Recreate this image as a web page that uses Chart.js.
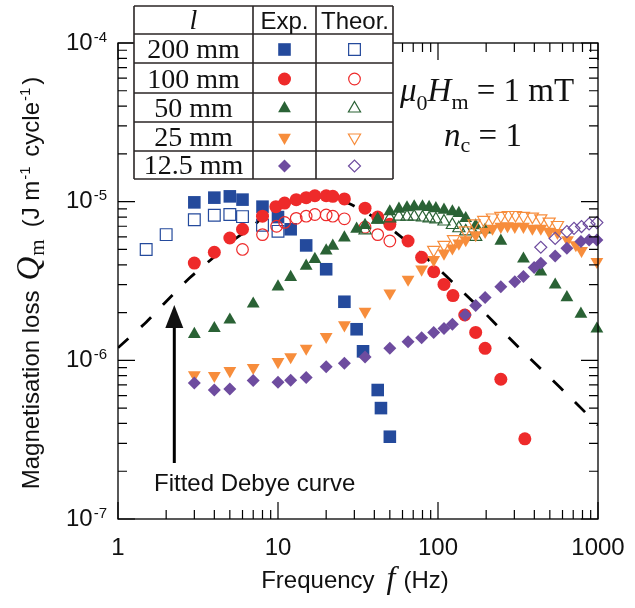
<!DOCTYPE html>
<html>
<head>
<meta charset="utf-8">
<title>Magnetisation loss vs frequency</title>
<script src="https://cdn.jsdelivr.net/npm/chart.js@4.4.1/dist/chart.umd.min.js"></script>
<style>
  html, body { margin: 0; padding: 0; background: #ffffff; }
  #wrap { width: 635px; height: 608px; position: relative; }
</style>
</head>
<body>
<div id="wrap"><canvas id="chart"></canvas></div>
<script>
// ---------- data ----------
// 200 mm sample
const f200Exp = [3, 4, 5, 6, 8, 10, 12, 15, 20, 26, 31, 34, 42, 44, 50];
const q200Exp = [9.9e-6, 1.06e-5, 1.08e-5, 1.03e-5, 9.3e-6, 8.0e-6, 6.7e-6, 5.3e-6, 3.75e-6, 2.34e-6, 1.57e-6, 1.14e-6, 6.5e-7, 5.0e-7, 3.3e-7];
const f200Theor = [1.5, 2, 3, 4, 5, 6, 8, 10];
const q200Theor = [5.0e-6, 6.2e-6, 7.7e-6, 8.2e-6, 8.3e-6, 8.05e-6, 7.1e-6, 6.5e-6];

// 100 mm sample
const f100Exp = [3, 4, 5, 6, 8, 9.7, 11, 13, 15, 17, 20, 22, 26, 35, 42, 50, 65, 79, 94, 109, 124, 147, 172, 197, 247, 349];
const q100Exp = [4.1e-6, 4.8e-6, 5.9e-6, 6.7e-6, 8.1e-6, 9.3e-6, 9.8e-6, 1.03e-5, 1.06e-5, 1.09e-5, 1.09e-5, 1.08e-5, 1.04e-5, 9.1e-6, 8.0e-6, 7.2e-6, 5.65e-6, 4.46e-6, 3.62e-6, 3.01e-6, 2.56e-6, 1.93e-6, 1.5e-6, 1.19e-6, 7.6e-7, 3.2e-7];
const f100Theor = [6, 8, 9.8, 11, 13, 15, 17, 20, 22, 26, 35, 42, 50];
const q100Theor = [5.0e-6, 6.2e-6, 7.0e-6, 7.4e-6, 7.85e-6, 8.1e-6, 8.3e-6, 8.25e-6, 8.1e-6, 7.8e-6, 6.9e-6, 6.2e-6, 5.65e-6];

// 50 mm sample
const f50Exp = [3, 4, 5, 7, 10, 12, 15, 17, 20, 22, 26, 31, 35, 42, 50, 57, 64, 71, 80, 88, 97, 109, 123, 135, 149, 172, 197, 247, 342, 439, 540, 639, 782, 984];
const q50Exp = [1.46e-6, 1.59e-6, 1.8e-6, 2.27e-6, 2.91e-6, 3.34e-6, 3.93e-6, 4.34e-6, 4.91e-6, 5.26e-6, 5.93e-6, 6.73e-6, 7.1e-6, 7.7e-6, 8.65e-6, 9.0e-6, 9.17e-6, 9.3e-6, 9.3e-6, 9.23e-6, 9.06e-6, 8.87e-6, 8.65e-6, 8.45e-6, 7.85e-6, 7.06e-6, 6.64e-6, 5.65e-6, 4.36e-6, 3.62e-6, 2.99e-6, 2.49e-6, 1.96e-6, 1.58e-6];
const f50Theor = [35, 42, 50, 57, 64, 71, 80, 88, 97, 109, 123, 135, 149, 172];
const q50Theor = [6.6e-6, 7.7e-6, 7.85e-6, 8.05e-6, 8.05e-6, 8.05e-6, 7.95e-6, 7.85e-6, 7.74e-6, 7.5e-6, 7.13e-6, 6.8e-6, 6.5e-6, 6.0e-6];

// 25 mm sample
const f25Exp = [3, 4, 5, 7, 10, 12, 15, 20, 26, 35, 50, 65, 79, 94, 109, 123, 135, 149, 172, 197, 219, 247, 272, 302, 342, 389, 439, 495, 558, 645, 727, 789, 984];
const q25Exp = [8.1e-7, 8.0e-7, 8.6e-7, 9.0e-7, 9.8e-7, 1.05e-6, 1.19e-6, 1.41e-6, 1.67e-6, 2.03e-6, 2.65e-6, 3.24e-6, 3.75e-6, 4.3e-6, 4.73e-6, 5.09e-6, 5.47e-6, 5.74e-6, 6.17e-6, 6.48e-6, 6.79e-6, 6.97e-6, 7.03e-6, 6.97e-6, 6.97e-6, 6.79e-6, 6.79e-6, 6.48e-6, 6.38e-6, 5.74e-6, 5.34e-6, 4.91e-6, 4.19e-6];
const f25Theor = [94, 109, 125, 148, 168, 193, 219, 247, 275, 305, 342, 389, 439, 495, 558];
const q25Theor = [4.97e-6, 5.34e-6, 5.8e-6, 6.6e-6, 7.3e-6, 7.67e-6, 7.95e-6, 8.13e-6, 8.24e-6, 8.24e-6, 8.13e-6, 8.05e-6, 7.85e-6, 7.48e-6, 7.13e-6];

// 12.5 mm sample
const f12Exp = [3, 4, 5, 7, 10, 12, 15, 20, 26, 35, 50, 65, 79, 94, 109, 123, 148, 172, 197, 247, 302, 342, 399, 439, 540, 639, 782, 880, 984];
const q12Exp = [7.2e-7, 6.5e-7, 6.6e-7, 7.45e-7, 7.27e-7, 7.5e-7, 7.8e-7, 9.1e-7, 9.6e-7, 1.05e-6, 1.19e-6, 1.31e-6, 1.39e-6, 1.5e-6, 1.59e-6, 1.69e-6, 1.93e-6, 2.22e-6, 2.49e-6, 2.91e-6, 3.13e-6, 3.37e-6, 3.84e-6, 4.09e-6, 4.55e-6, 5.09e-6, 5.6e-6, 5.74e-6, 5.74e-6];
const f12Theor = [439, 540, 639, 708, 789, 880, 984];
const q12Theor = [5.16e-6, 5.87e-6, 6.48e-6, 6.79e-6, 6.97e-6, 7.24e-6, 7.38e-6];

// fitted Debye curve
const fDebye = [1, 1.5, 2, 2.8, 3.9, 5, 6.7, 8, 10, 13, 17, 22, 28, 35, 45, 70, 100, 130, 190, 250, 350, 480, 700, 1000];
const qDebye = [1.2e-6, 1.74e-6, 2.35e-6, 3.3e-6, 4.4e-6, 5.5e-6, 6.8e-6, 7.9e-6, 9.1e-6, 1.02e-5, 1.07e-5, 1.05e-5, 9.7e-6, 8.6e-6, 7.4e-6, 5.2e-6, 3.8e-6, 2.95e-6, 2.05e-6, 1.55e-6, 1.1e-6, 8.1e-7, 5.6e-7, 3.9e-7];

// axes
const xMin = 1, xMax = 1000;
const yMin = 1e-7, yMax = 1e-4;
const xTickValues = [1, 10, 100, 1000];
const xTickLabels = ['1', '10', '100', '1000'];
const yTickValues = [1e-7, 1e-6, 1e-5, 1e-4];
const yTickExponents = ['-7', '-6', '-5', '-4'];
const lengthLabels = ['200 mm', '100 mm', '50 mm', '25 mm', '12.5 mm'];

// ---------- styles ----------
const SANS = '"Liberation Sans", Arial, sans-serif';
const SERIF = '"Liberation Serif", "Times New Roman", serif';
const COLORS = ['#244a9c', '#ee2a2a', '#2a6235', '#f78d3c', '#6e4c9f'];
const MARKS = [
  { style: 'rect', rot: 0, rFill: 8.9, rOpen: 8.3 },
  { style: 'circle', rot: 0, rFill: 6.5, rOpen: 5.8 },
  { style: 'triangle', rot: 0, rFill: 7.4, rOpen: 7.0 },
  { style: 'triangle', rot: 180, rFill: 7.4, rOpen: 7.0 },
  { style: 'rectRot', rot: 0, rFill: 6.5, rOpen: 6.0 }
];

const expSets = [[f200Exp, q200Exp], [f100Exp, q100Exp], [f50Exp, q50Exp], [f25Exp, q25Exp], [f12Exp, q12Exp]];
const theorSets = [[f200Theor, q200Theor], [f100Theor, q100Theor], [f50Theor, q50Theor], [f25Theor, q25Theor], [f12Theor, q12Theor]];

function toPoints(xs, ys) { return xs.map((x, i) => ({ x: x, y: ys[i] })); }

const datasets = [];
for (let i = 0; i < 5; i++) {
  const m = MARKS[i];
  datasets.push({
    label: lengthLabels[i] + ' Exp.',
    data: toPoints(expSets[i][0], expSets[i][1]),
    showLine: false,
    pointStyle: m.style, rotation: m.rot, pointRadius: m.rFill,
    pointBackgroundColor: COLORS[i], pointBorderColor: COLORS[i], pointBorderWidth: 0,
    order: 2 + (4 - i) * 2, clip: false
  });
  datasets.push({
    label: lengthLabels[i] + ' Theor.',
    data: toPoints(theorSets[i][0], theorSets[i][1]),
    showLine: false,
    pointStyle: m.style, rotation: m.rot, pointRadius: m.rOpen,
    pointBackgroundColor: 'rgba(255,255,255,0)', pointBorderColor: COLORS[i], pointBorderWidth: 1.2,
    order: 1 + (4 - i) * 2, clip: false
  });
}
datasets.push({
  label: 'Fitted Debye curve',
  data: toPoints(fDebye, qDebye),
  showLine: true, pointRadius: 0, borderColor: '#000000', borderWidth: 2.8,
  borderDash: [14, 17], tension: 0.25, fill: false, order: 50
});

// ---------- drawing helpers ----------
// runs: [text, font, dy, extra gap after]
function drawRuns(ctx, runs, x, y, align) {
  let total = 0;
  runs.forEach(r => { ctx.font = r[1]; total += ctx.measureText(r[0]).width + (r[3] || 0); });
  let cx = align === 'center' ? x - total / 2 : (align === 'right' ? x - total : x);
  ctx.textAlign = 'left';
  ctx.textBaseline = 'alphabetic';
  runs.forEach(r => {
    ctx.font = r[1];
    ctx.fillText(r[0], cx, y + (r[2] || 0));
    cx += ctx.measureText(r[0]).width + (r[3] || 0);
  });
}

function markerPath(ctx, style, rot, r, x, y) {
  const rad = rot * Math.PI / 180;
  ctx.beginPath();
  if (style === 'circle') {
    ctx.arc(x, y, r, 0, Math.PI * 2);
  } else if (style === 'rect') {
    const s = Math.SQRT1_2 * r;
    ctx.rect(x - s, y - s, 2 * s, 2 * s);
  } else if (style === 'triangle') {
    let a = rad;
    ctx.moveTo(x + Math.sin(a) * r, y - Math.cos(a) * r);
    a += 2 * Math.PI / 3;
    ctx.lineTo(x + Math.sin(a) * r, y - Math.cos(a) * r);
    a += 2 * Math.PI / 3;
    ctx.lineTo(x + Math.sin(a) * r, y - Math.cos(a) * r);
    ctx.closePath();
  } else if (style === 'rectRot') {
    ctx.moveTo(x - r, y); ctx.lineTo(x, y - r); ctx.lineTo(x + r, y); ctx.lineTo(x, y + r);
    ctx.closePath();
  }
}

function logTicks(min, max) {
  const major = [], minor = [];
  const e0 = Math.round(Math.log10(min)), e1 = Math.round(Math.log10(max));
  for (let e = e0; e < e1; e++) {
    const b = Math.pow(10, e);
    major.push(b);
    for (let k = 2; k <= 9; k++) minor.push(k * b);
  }
  major.push(max);
  return { major, minor };
}

// frame, inward ticks, tick labels, titles, table and annotations
const decorations = {
  id: 'decorations',
  afterDraw(chart) {
    const ctx = chart.ctx;
    const xs = chart.scales.x, ys = chart.scales.y;
    const L = chart.chartArea.left, R = chart.chartArea.right;
    const T = chart.chartArea.top, B = chart.chartArea.bottom;
    ctx.save();
    ctx.strokeStyle = '#000'; ctx.fillStyle = '#000';
    ctx.lineWidth = 1.3;
    ctx.strokeRect(L, T, R - L, B - T);

    const MAJ = 17, MIN = 9;
    ctx.lineWidth = 1.2;
    const xt = logTicks(xMin, xMax), yt = logTicks(yMin, yMax);
    ctx.beginPath();
    xt.major.forEach(v => { const p = xs.getPixelForValue(v); ctx.moveTo(p, B); ctx.lineTo(p, B - MAJ); ctx.moveTo(p, T); ctx.lineTo(p, T + MAJ); });
    xt.minor.forEach(v => { const p = xs.getPixelForValue(v); ctx.moveTo(p, B); ctx.lineTo(p, B - MIN); ctx.moveTo(p, T); ctx.lineTo(p, T + MIN); });
    yt.major.forEach(v => { const p = ys.getPixelForValue(v); ctx.moveTo(L, p); ctx.lineTo(L + MAJ, p); ctx.moveTo(R, p); ctx.lineTo(R - MAJ, p); });
    yt.minor.forEach(v => { const p = ys.getPixelForValue(v); ctx.moveTo(L, p); ctx.lineTo(L + MIN, p); ctx.moveTo(R, p); ctx.lineTo(R - MIN, p); });
    ctx.stroke();

    // tick labels
    ctx.fillStyle = '#111';
    xTickValues.forEach((v, i) => {
      drawRuns(ctx, [[xTickLabels[i], '24px ' + SANS, 0]], xs.getPixelForValue(v), B + 36, 'center');
    });
    yTickValues.forEach((v, i) => {
      const p = ys.getPixelForValue(v);
      drawRuns(ctx, [['10', '24px ' + SANS, 0, 1], [yTickExponents[i], '15px ' + SANS, -8]], L - 11, p + 6.5, 'right');
    });

    // axis titles
    drawRuns(ctx, [['Frequency', '24px ' + SANS, 0, 12], ['f', 'italic 32px ' + SERIF, 0, 8], ['(Hz)', '24px ' + SANS, 0]], (L + R) / 2 - 3, 588, 'center');
    ctx.save();
    ctx.translate(39, (T + B) / 2 + 2);
    ctx.rotate(-Math.PI / 2);
    drawRuns(ctx, [
      ['Magnetisation loss', '24px ' + SANS, 0, 10],
      ['Q', 'italic 33px ' + SERIF, 0, 1],
      ['m', '21px ' + SERIF, 5, 12],
      ['(J m', '24px ' + SANS, 0, 1],
      ['-1', '15px ' + SANS, -9, 3],
      [' cycle', '24px ' + SANS, 0, 1],
      ['-1', '15px ' + SANS, -9, 3],
      [')', '24px ' + SANS, 0]
    ], 0, 0, 'center');
    ctx.restore();

    // annotation for the Debye curve
    const ax = 174.3;
    ctx.lineWidth = 3;
    ctx.beginPath(); ctx.moveTo(ax, 463); ctx.lineTo(ax, 322); ctx.stroke();
    ctx.beginPath(); ctx.moveTo(ax, 305); ctx.lineTo(ax + 9, 328); ctx.lineTo(ax - 9, 328); ctx.closePath(); ctx.fill();
    drawRuns(ctx, [['Fitted Debye curve', '24px ' + SANS, 0]], 154, 491, 'left');

    // field and cycle annotation
    drawRuns(ctx, [
      ['\u03bc', 'italic 33px ' + SERIF, 0], ['0', '22px ' + SERIF, 9],
      ['H', 'italic 33px ' + SERIF, 0], ['m', '22px ' + SERIF, 8],
      [' = 1 mT', '33px ' + SERIF, 0]
    ], 400, 101, 'left');
    drawRuns(ctx, [
      ['n', 'italic 33px ' + SERIF, 0], ['c', '22px ' + SERIF, 6],
      [' = 1', '33px ' + SERIF, 0]
    ], 444, 146, 'left');

    // table of sample lengths and marker keys
    const cols = [134, 253, 316, 393];
    const rows = [6, 34, 63, 93, 122, 151, 179];
    ctx.fillStyle = '#fff';
    ctx.fillRect(cols[0], rows[0], cols[3] - cols[0], rows[6] - rows[0]);
    ctx.strokeStyle = '#2b2626'; ctx.lineWidth = 1.6;
    ctx.beginPath();
    cols.forEach(c => { ctx.moveTo(c, rows[0]); ctx.lineTo(c, rows[6]); });
    rows.forEach(r => { ctx.moveTo(cols[0], r); ctx.lineTo(cols[3], r); });
    ctx.stroke();
    ctx.fillStyle = '#111';
    drawRuns(ctx, [['l', 'italic 28px ' + SERIF, 0]], (cols[0] + cols[1]) / 2, 29, 'center');
    drawRuns(ctx, [['Exp.', '24px ' + SANS, 0]], (cols[1] + cols[2]) / 2, 29, 'center');
    drawRuns(ctx, [['Theor.', '24px ' + SANS, 0]], (cols[2] + cols[3]) / 2 + 0.5, 29, 'center');
    for (let i = 0; i < 5; i++) {
      const top = rows[i + 1], bot = rows[i + 2];
      ctx.fillStyle = '#111';
      drawRuns(ctx, [[lengthLabels[i], '28px ' + SERIF, 0]], (cols[0] + cols[1]) / 2, bot - 5.5, 'center');
      const cy = (top + bot) / 2 + 1;
      const m = MARKS[i];
      markerPath(ctx, m.style, m.rot, m.rFill, (cols[1] + cols[2]) / 2, cy);
      ctx.fillStyle = COLORS[i]; ctx.fill();
      markerPath(ctx, m.style, m.rot, m.rOpen, (cols[2] + cols[3]) / 2, cy);
      ctx.strokeStyle = COLORS[i]; ctx.lineWidth = 1.2; ctx.stroke();
    }
    ctx.restore();
  }
};

new Chart(document.getElementById('chart'), {
  type: 'scatter',
  data: { datasets: datasets },
  options: {
    responsive: true,
    maintainAspectRatio: false,
    devicePixelRatio: 1,
    animation: false,
    layout: { padding: { left: 118, right: 37, top: 43, bottom: 89 } },
    plugins: { legend: { display: false }, tooltip: { enabled: false } },
    scales: {
      x: { type: 'logarithmic', min: xMin, max: xMax, display: false },
      y: { type: 'logarithmic', min: yMin, max: yMax, display: false }
    }
  },
  plugins: [decorations]
});
</script>
</body>
</html>
